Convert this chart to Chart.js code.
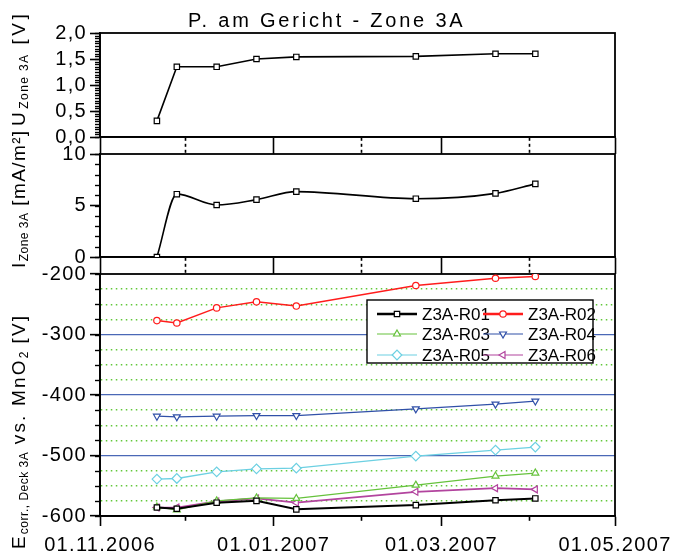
<!DOCTYPE html>
<html>
<head>
<meta charset="utf-8">
<script src="https://cdn.jsdelivr.net/npm/chart.js@4.4.1/dist/chart.umd.min.js"></script>
<style>
  html, body { margin: 0; padding: 0; background: #fff; }
  #wrap { position: relative; width: 679px; height: 557px; overflow: hidden; font-family: 'Liberation Sans', Arial, sans-serif; color: #000; }
  #wrap canvas { position: absolute; left: 0; top: 0; }
  .title { position: absolute; left: 188px; top: 9px; font-size: 20px; letter-spacing: 2.8px; white-space: nowrap; }
  .ytitle { position: absolute; transform-origin: 0 0; transform: rotate(-90deg); font-size: 19px; line-height: 19px; letter-spacing: 2px; white-space: nowrap; }
  .ytitle sub { font-size: 12px; vertical-align: -3px; letter-spacing: 0.5px; }
</style>
</head>
<body>
<div id="wrap">
  <canvas id="chartU" width="679" height="557"></canvas>
  <canvas id="chartI" width="679" height="557"></canvas>
  <canvas id="chartE" width="679" height="557"></canvas>
  <div class="title">P. am Gericht - Zone 3A</div>
  <div class="ytitle" style="left:9px;top:126px;letter-spacing:3.6px">U<sub style="letter-spacing:1.4px">Zone 3A</sub> [V]</div>
  <div class="ytitle" style="left:9px;top:268px;letter-spacing:1.4px">I<sub style="letter-spacing:0.5px">Zone 3A</sub> [mA/m²]</div>
  <div class="ytitle" style="left:9px;top:549px;letter-spacing:2.2px">E<sub>corr., Deck 3A</sub> vs. MnO<sub>2</sub> [V]</div>
</div>
<script>
// measurement dates
const dates = ['2006-11-21', '2006-11-28', '2006-12-12', '2006-12-26', '2007-01-09', '2007-02-20', '2007-03-20', '2007-04-03'];

// x axis
const xStart = '2006-11-01';
const xEnd = '2007-05-01';
const xTickDates = ['2006-11-01', '2006-12-01', '2007-01-01', '2007-02-01', '2007-03-01', '2007-04-01', '2007-05-01'];
const xLabelDates = ['2006-11-01', '2007-01-01', '2007-03-01', '2007-05-01'];
const xLabels = ['01.11.2006', '01.01.2007', '01.03.2007', '01.05.2007'];

// top panel: voltage [V]
const uZone = [0.31, 1.35, 1.35, 1.50, 1.54, 1.55, 1.60, 1.60];
const uTicks = [0, 0.5, 1.0, 1.5, 2.0];

// middle panel: current density [mA/m2]
const iZone = [0.0, 6.1, 5.05, 5.57, 6.35, 5.66, 6.18, 7.1];
const iTicks = [0, 5, 10];

// bottom panel: potentials [mV]
const r01 = [-586, -588, -578, -575, -589, -582, -574, -571];
const r02 = [-277, -281, -256, -246, -253, -219, -207, -204];
const r03 = [-585, -590, -575, -570, -571, -549, -534, -529];
const r04 = [-435, -436, -435, -434, -434, -423, -415, -410];
const r05 = [-539, -538, -527, -522, -521, -501, -491, -486];
const r06 = [-586, -586, -576, -571, -578, -560, -554, -556];
const eTicks = [-600, -500, -400, -300, -200];
const seriesLabels = ['Z3A-R01', 'Z3A-R02', 'Z3A-R03', 'Z3A-R04', 'Z3A-R05', 'Z3A-R06'];

const FONT = "'Liberation Sans', Arial, sans-serif";

function dayOf(s) {
    return (Date.parse(s) - Date.parse(xStart)) / 86400000;
}
const xTickDays = xTickDates.map(dayOf);
const xLabelDays = xLabelDates.map(dayOf);
const dayValues = dates.map(dayOf);

function toPoints(values) {
    return values.map((v, i) => ({ x: dayValues[i], y: v }));
}

function isXMajor(v) {
    return xLabelDays.indexOf(v) >= 0;
}

function makeXAxis(showLabels) {
    return {
        type: 'linear',
        min: 0,
        max: dayOf(xEnd),
        afterBuildTicks: s => { s.ticks = xTickDays.map(v => ({ value: v })); },
        afterFit: s => { s.height = showLabels ? 41 : 17; },
        grid: {
            drawOnChartArea: false,
            drawTicks: true,
            tickLength: showLabels ? 10 : 17,
            tickColor: '#000',
            tickWidth: 1.6,
            tickBorderDash: ctx => {
                if (!ctx.tick || isXMajor(ctx.tick.value)) return [];
                return showLabels ? [4, 100] : [3, 3];
            }
        },
        border: { display: true, color: '#000', width: 1.8 },
        ticks: {
            display: showLabels,
            autoSkip: false,
            maxRotation: 0,
            padding: 7,
            color: '#000',
            font: { family: FONT, size: 20 },
            callback: v => {
                const k = xLabelDays.indexOf(v);
                return k >= 0 ? xLabels[k] : '';
            }
        }
    };
}

function stepTicks(min, max, step) {
    return s => {
        const n = Math.round((max - min) / step);
        const t = [];
        for (let k = 0; k <= n; k++) t.push({ value: +(min + k * step).toFixed(6) });
        s.ticks = t;
    };
}

// labelled axis: long ticks only at the labelled values
function makeYAxis(min, max, labelVals, step, fmt, gridOpts) {
    const isMajor = v => labelVals.some(l => Math.abs(l - v) < step / 10);
    return {
        type: 'linear',
        position: 'left',
        min: min,
        max: max,
        afterBuildTicks: stepTicks(min, max, step),
        afterFit: s => { s.width = 100; },
        grid: Object.assign({
            drawOnChartArea: false,
            tickLength: 10,
            tickColor: ctx => (ctx.tick && !isMajor(ctx.tick.value)) ? 'rgba(0,0,0,0)' : '#000',
            tickWidth: 1.6
        }, gridOpts || {}),
        border: { display: true, color: '#000', width: 1.8 },
        ticks: {
            autoSkip: false,
            padding: 3,
            color: '#000',
            font: { family: FONT, size: 20 },
            callback: v => isMajor(v) ? fmt(v) : ''
        }
    };
}

// short ticks on every y tick of the scale, next to the left edge
const minorTickPlugin = {
    id: 'minorTicks',
    afterDraw(chart) {
        const scale = chart.scales.y;
        const left = chart.chartArea.left;
        const ctx = chart.ctx;
        ctx.save();
        ctx.strokeStyle = '#000';
        ctx.lineWidth = 1.4;
        ctx.setLineDash([]);
        scale.ticks.forEach(t => {
            const py = Math.round(scale.getPixelForValue(t.value)) + 0.5;
            ctx.beginPath();
            ctx.moveTo(left - 5, py);
            ctx.lineTo(left, py);
            ctx.stroke();
        });
        ctx.restore();
    }
};

// frame round the plot area + wider letter spacing of axis text
const framePlugin = {
    id: 'frame',
    beforeUpdate(chart) { chart.ctx.letterSpacing = '1.3px'; },
    beforeDraw(chart) { chart.ctx.letterSpacing = '1.3px'; },
    beforeDatasetsDraw(chart) {
        const a = chart.chartArea;
        const ctx = chart.ctx;
        ctx.save();
        ctx.strokeStyle = '#000';
        ctx.lineWidth = 1.8;
        ctx.strokeRect(a.left, a.top, a.right - a.left, a.bottom - a.top);
        ctx.restore();
    }
};

function baseOptions(padTop, padBottom, xAxis, yAxis) {
    return {
        responsive: false,
        animation: false,
        layout: { padding: { left: 0, right: 64, top: padTop, bottom: padBottom } },
        plugins: { legend: { display: false }, tooltip: { enabled: false } },
        scales: { x: xAxis, y: yAxis }
    };
}

// top panel
new Chart(document.getElementById('chartU'), {
    type: 'line',
    data: {
        datasets: [{
            data: toPoints(uZone),
            borderColor: '#000',
            borderWidth: 1.6,
            pointStyle: 'rect',
            pointRadius: 3.8,
            pointBackgroundColor: '#fff',
            pointBorderColor: '#000',
            pointBorderWidth: 1.2,
            tension: 0
        }]
    },
    options: baseOptions(33, 403, makeXAxis(false),
        makeYAxis(0, 2, uTicks, 0.05, v => v.toFixed(1).replace('.', ','))),
    plugins: [framePlugin, minorTickPlugin]
});

// middle panel
new Chart(document.getElementById('chartI'), {
    type: 'line',
    data: {
        datasets: [{
            data: toPoints(iZone),
            borderColor: '#000',
            borderWidth: 1.6,
            pointStyle: 'rect',
            pointRadius: 3.8,
            pointBackgroundColor: '#fff',
            pointBorderColor: '#000',
            pointBorderWidth: 1.2,
            cubicInterpolationMode: 'monotone'
        }]
    },
    options: baseOptions(154, 283, makeXAxis(false),
        makeYAxis(0, 10, iTicks, 1, v => String(v))),
    plugins: [framePlugin, minorTickPlugin]
});

// bottom panel
const seriesStyle = [
    { color: '#000000', style: 'rect', rot: 0, radius: 3.8, width: 2, legendWidth: 2.6 },
    { color: '#ff1c1c', style: 'circle', rot: 0, radius: 3.2, width: 1.5, legendWidth: 2.6 },
    { color: '#66c23c', style: 'triangle', rot: 0, radius: 4, width: 1.3, legendWidth: 1.2 },
    { color: '#3050a8', style: 'triangle', rot: 180, radius: 4, width: 1.3, legendWidth: 1.2 },
    { color: '#6cd0e2', style: 'rectRot', rot: 0, radius: 4.8, width: 1.3, legendWidth: 1.2 },
    { color: '#b2449e', style: 'triangle', rot: 270, radius: 4, width: 1.8, legendWidth: 1.2 }
];
const eSeries = [r01, r02, r03, r04, r05, r06];

const legendPlugin = {
    id: 'boxLegend',
    afterDatasetsDraw(chart) {
        const ctx = chart.ctx;
        const box = { x: 367, y: 300, w: 226, h: 63 };
        const cols = [377, 483];
        const rows = [314, 334, 355];
        ctx.save();
        ctx.letterSpacing = '0px';
        ctx.fillStyle = '#fff';
        ctx.fillRect(box.x, box.y, box.w, box.h);
        ctx.strokeStyle = '#000';
        ctx.lineWidth = 1.4;
        ctx.strokeRect(box.x, box.y, box.w, box.h);
        chart.data.datasets.forEach((ds, i) => {
            const st = seriesStyle[i];
            const x = cols[i % 2];
            const y = rows[Math.floor(i / 2)];
            ctx.font = '17px ' + FONT;
            ctx.fillStyle = '#000';
            ctx.textAlign = 'left';
            ctx.textBaseline = 'middle';
            ctx.fillText(ds.label, x + 45, y + 1);
            ctx.strokeStyle = st.color;
            ctx.lineWidth = st.legendWidth;
            ctx.setLineDash([]);
            ctx.beginPath();
            ctx.moveTo(x, y);
            ctx.lineTo(x + 40, y);
            ctx.stroke();
            ctx.fillStyle = '#fff';
            ctx.lineWidth = 1.2;
            Chart.helpers.drawPoint(ctx, { pointStyle: st.style, rotation: st.rot, radius: st.radius, borderWidth: 1.2 }, x + 20, y);
        });
        ctx.restore();
    }
};

const eGrid = {
    drawOnChartArea: true,
    color: ctx => {
        if (!ctx.tick) return '#000';
        const v = ctx.tick.value;
        if (v === -200 || v === -600) return 'rgba(0,0,0,0)';
        return v % 100 === 0 ? '#4a68b6' : '#62c83a';
    },
    lineWidth: ctx => (ctx.tick && ctx.tick.value % 100 === 0) ? 1.3 : 1.5
};
const eAxis = makeYAxis(-600, -200, eTicks, 25, v => String(v), eGrid);
eAxis.border.dash = ctx => (ctx.tick && ctx.tick.value % 100 !== 0) ? [1.5, 3.5] : [];

new Chart(document.getElementById('chartE'), {
    type: 'line',
    data: {
        datasets: eSeries.map((vals, i) => ({
            label: seriesLabels[i],
            data: toPoints(vals),
            borderColor: seriesStyle[i].color,
            borderWidth: seriesStyle[i].width,
            pointStyle: seriesStyle[i].style,
            pointRotation: seriesStyle[i].rot,
            pointRadius: seriesStyle[i].radius,
            pointBackgroundColor: '#fff',
            pointBorderColor: seriesStyle[i].color,
            pointBorderWidth: 1.2,
            tension: 0
        }))
    },
    options: baseOptions(274, 0, makeXAxis(true), eAxis),
    plugins: [framePlugin, legendPlugin, minorTickPlugin]
});
</script>
</body>
</html>
